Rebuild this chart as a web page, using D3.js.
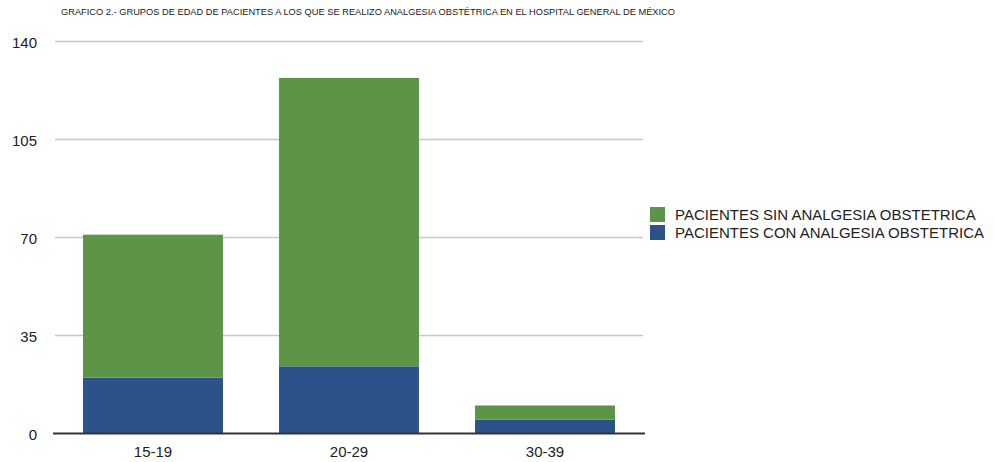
<!DOCTYPE html>
<html><head><meta charset="utf-8">
<script src="https://cdn.jsdelivr.net/npm/d3@7"></script>
<style>body{margin:0;background:#fff}svg{display:block}text{font-family:"Liberation Sans",Arial,sans-serif}</style>
</head><body>
<script>
const title = "GRAFICO 2.- GRUPOS DE EDAD DE PACIENTES A LOS QUE SE REALIZO ANALGESIA OBSTÉTRICA EN EL HOSPITAL GENERAL DE MÉXICO";
const categories = ["15-19", "20-29", "30-39"];
const conAnalgesia = [20, 24, 5];
const sinAnalgesia = [51, 103, 5];
const seriesNames = ["PACIENTES SIN ANALGESIA OBSTETRICA", "PACIENTES CON ANALGESIA OBSTETRICA"];
const yTicks = [0, 35, 70, 105, 140];

const W = 995, H = 462;
const colors = {con: "#2c5289", sin: "#5c9448"};
const svg = d3.select("body").append("svg").attr("width", W).attr("height", H);

const x = d3.scaleBand().domain(categories).range([55, 643]).paddingInner(0.286).paddingOuter(0.143);
const y = d3.scaleLinear().domain([0, 140]).range([433.5, 41.5]);

svg.append("text").attr("x", 61).attr("y", 15).attr("font-size", 9).attr("fill", "#222")
  .attr("textLength", 614).attr("lengthAdjust", "spacingAndGlyphs").text(title);

// gridlines
svg.append("g").selectAll("line").data(yTicks.filter(d => d > 0)).join("line")
  .attr("x1", 55).attr("x2", 643).attr("y1", d => y(d)).attr("y2", d => y(d))
  .attr("stroke", "#c8c8c8").attr("stroke-width", 1.5);

// y labels
svg.append("g").selectAll("text").data(yTicks).join("text")
  .attr("x", 37).attr("y", d => y(d) + 6).attr("text-anchor", "end")
  .attr("font-size", 15).attr("fill", "#222").text(d => d);

const stacked = categories.map((c, i) => ({c, con: conAnalgesia[i], sin: sinAnalgesia[i]}));
const g = svg.append("g");
g.selectAll("rect.con").data(stacked).join("rect").attr("class", "con")
  .attr("x", d => x(d.c)).attr("width", x.bandwidth())
  .attr("y", d => y(d.con)).attr("height", d => y(0) - y(d.con)).attr("fill", colors.con);
g.selectAll("rect.sin").data(stacked).join("rect").attr("class", "sin")
  .attr("x", d => x(d.c)).attr("width", x.bandwidth())
  .attr("y", d => y(d.con + d.sin)).attr("height", d => y(d.con) - y(d.con + d.sin)).attr("fill", colors.sin);

// axis line
svg.append("line").attr("x1", 53).attr("x2", 645).attr("y1", y(0)).attr("y2", y(0))
  .attr("stroke", "#333").attr("stroke-width", 2);

// x labels
svg.append("g").selectAll("text").data(categories).join("text")
  .attr("x", d => x(d) + x.bandwidth() / 2).attr("y", 457).attr("text-anchor", "middle")
  .attr("font-size", 15).attr("fill", "#222").text(d => d);

// legend
const leg = svg.append("g").attr("transform", "translate(650,207)");
const legItems = [{n: seriesNames[0], c: colors.sin}, {n: seriesNames[1], c: colors.con}];
legItems.forEach((d, i) => {
  leg.append("rect").attr("x", 0).attr("y", i * 18).attr("width", 15).attr("height", 15).attr("fill", d.c);
  leg.append("text").attr("x", 25).attr("y", i * 18 + 13).attr("font-size", 15).attr("fill", "#222").text(d.n);
});
</script>
</body></html>
